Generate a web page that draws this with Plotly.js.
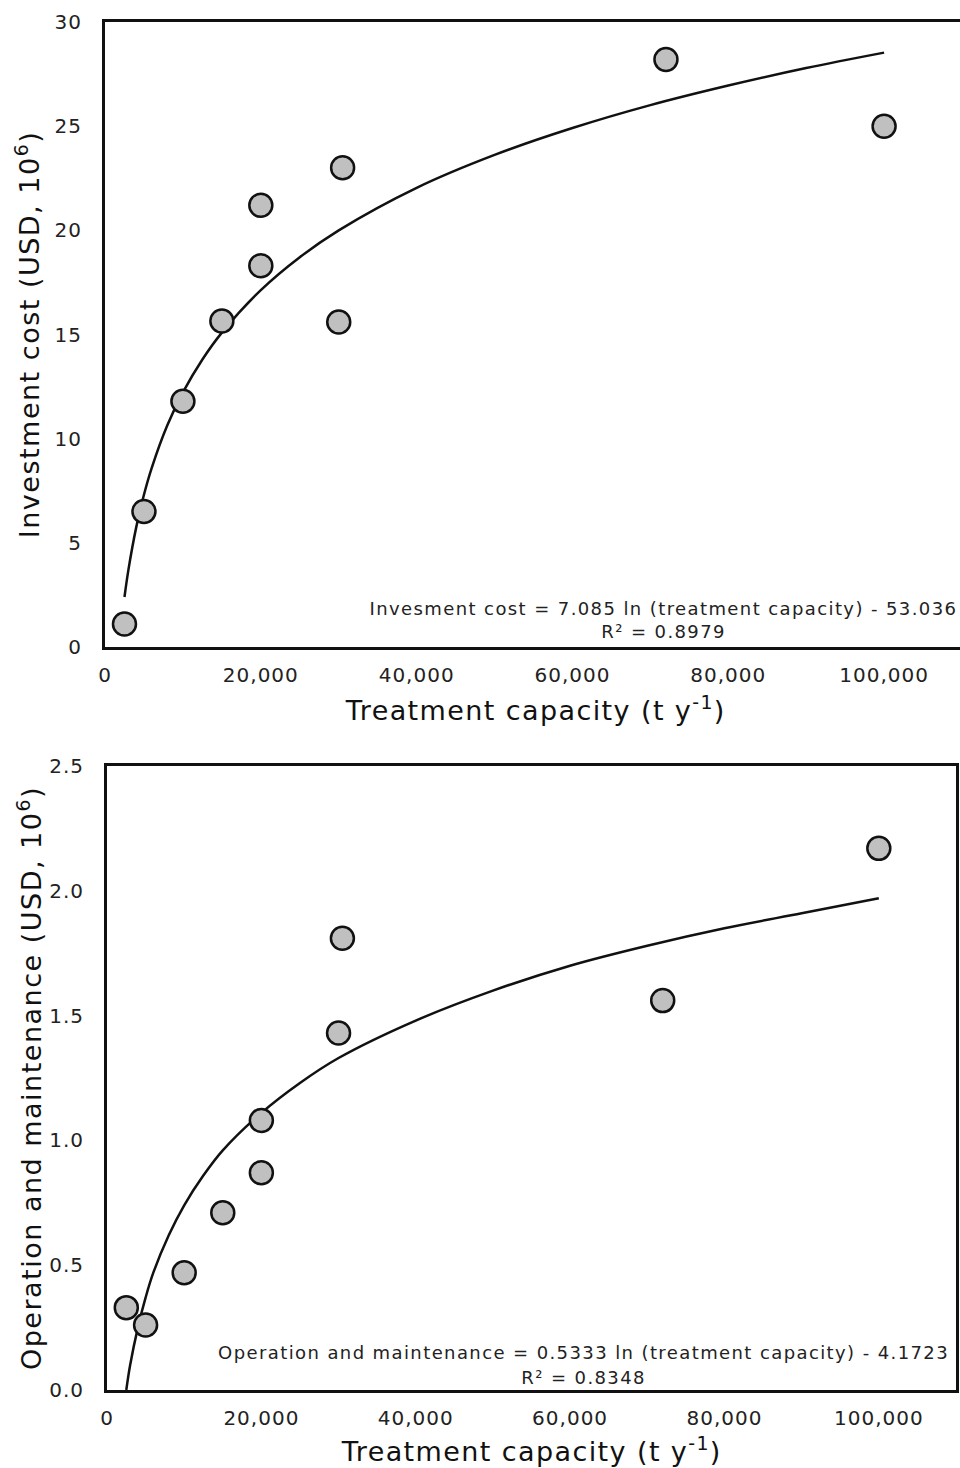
<!DOCTYPE html>
<html>
<head>
<meta charset="utf-8">
<script src="https://cdn.plot.ly/plotly-3.0.1.min.js"></script>
<style>
html, body { margin: 0; padding: 0; overflow: hidden; background: #fff; }
#chart { width: 966px; height: 1468px; }
/* widen the DejaVu glyph run to match the wide geometric face of the original */
#chart [class*="tick"] text { letter-spacing: 1px; }
#chart [class*="title"] text { letter-spacing: 1.5px; }
#chart .annotation-text { letter-spacing: 1.4px; }
</style>
</head>
<body>
<div id="chart"></div>
<script>
// Measured points
const capacityInv = [2500, 5000, 10000, 15000, 20000, 20000, 30000, 30500, 72000, 100000];
const investCost = [1.1, 6.5, 11.8, 15.65, 18.3, 21.2, 15.6, 23.0, 28.2, 25.0];
const capacityOM = [2500, 5000, 10000, 15000, 20000, 20000, 30000, 30500, 72000, 100000];
const omCost = [0.33, 0.26, 0.47, 0.71, 0.87, 1.08, 1.43, 1.81, 1.56, 2.17];

// Logarithmic trend lines as drawn in the figure
const trendX = [2500, 3000, 4000, 5000, 6000, 8000, 10000, 12500, 15000, 20000, 25000, 30000, 40000, 50000, 60000, 70000, 80000, 90000, 100000];
const trendInv = [2.40, 3.69, 5.73, 7.31, 8.60, 10.64, 12.22, 13.80, 15.09, 17.13, 18.71, 20.00, 22.04, 23.62, 24.91, 26.01, 26.95, 27.79, 28.53];
const trendOM = [0.00, 0.10, 0.25, 0.37, 0.47, 0.62, 0.74, 0.86, 0.96, 1.11, 1.23, 1.33, 1.48, 1.60, 1.70, 1.78, 1.85, 1.91, 1.97];

const xTickVals = [0, 20000, 40000, 60000, 80000, 100000];
const xTickText = ['0', '20,000', '40,000', '60,000', '80,000', '100,000'];
const yTopTicks = [0, 5, 10, 15, 20, 25, 30];
const yBotTicks = [0, 0.5, 1.0, 1.5, 2.0, 2.5];
const yBotText = ['0.0', '0.5', '1.0', '1.5', '2.0', '2.5'];

const xTitle = 'Treatment capacity (t y<sup>-1</sup>)';
const yTitleTop = 'Investment cost (USD, 10<sup>6</sup>)';
const yTitleBot = 'Operation and maintenance (USD, 10<sup>6</sup>)';
const eqInv = 'Invesment cost = 7.085 ln (treatment capacity) - 53.036';
const r2Inv = 'R² = 0.8979';
const eqOM = 'Operation and maintenance = 0.5333 ln (treatment capacity) - 4.1723';
const r2OM = 'R² = 0.8348';

const FONT = 'DejaVu Sans, sans-serif';
const W = 966, H = 1468;

const markerStyle = { size: 23, color: '#c0c0c0', line: { color: '#111', width: 2.5 } };

const data = [
  { x: trendX, y: trendInv, xaxis: 'x', yaxis: 'y', mode: 'lines', line: { color: '#111', width: 2.5, shape: 'spline' }, hoverinfo: 'skip' },
  { x: capacityInv, y: investCost, xaxis: 'x', yaxis: 'y', mode: 'markers', marker: markerStyle },
  { x: trendX, y: trendOM, xaxis: 'x2', yaxis: 'y2', mode: 'lines', line: { color: '#111', width: 2.5, shape: 'spline' }, hoverinfo: 'skip' },
  { x: capacityOM, y: omCost, xaxis: 'x2', yaxis: 'y2', mode: 'markers', marker: markerStyle }
];

function xAxis(dom, anchor) {
  return {
    domain: dom, anchor: anchor, range: [0, 110000],
    tickvals: xTickVals, ticktext: xTickText, ticks: '',
    showgrid: false, zeroline: false,
    showline: true, linecolor: '#111', linewidth: 3, mirror: true,
    tickfont: { family: FONT, size: 20, color: '#222' },
    ticklabelstandoff: 8
  };
}
function yAxis(dom, anchor, range, vals, text, title) {
  return {
    domain: dom, anchor: anchor, range: range,
    tickvals: vals, ticktext: text, ticks: '',
    showgrid: false, zeroline: false,
    showline: true, linecolor: '#111', linewidth: 3, mirror: true,
    tickfont: { family: FONT, size: 20, color: '#222' },
    ticklabelstandoff: 16,
    title: { text: title, font: { family: FONT, size: 27, color: '#111' } }
  };
}

const annFont = { family: FONT, size: 18, color: '#222' };
const titleFont = { family: FONT, size: 27, color: '#111' };

const layout = {
  width: W, height: H,
  margin: { l: 0, r: 0, t: 0, b: 0 },
  paper_bgcolor: '#fff', plot_bgcolor: '#fff',
  showlegend: false,
  xaxis: xAxis([105 / W, 962 / W], 'y'),
  yaxis: yAxis([1 - 647 / H, 1 - 22 / H], 'x', [0, 30], yTopTicks, yTopTicks.map(String), yTitleTop),
  xaxis2: xAxis([107 / W, 956 / W], 'y2'),
  yaxis2: yAxis([1 - 1390 / H, 1 - 766 / H], 'x2', [0, 2.5], yBotTicks, yBotText, yTitleBot),
  annotations: [
    { text: xTitle, xref: 'paper', yref: 'paper', x: 535 / W, y: 1 - 708 / H, showarrow: false, xanchor: 'center', yanchor: 'middle', font: titleFont },
    { text: xTitle, xref: 'paper', yref: 'paper', x: 531 / W, y: 1 - 1449 / H, showarrow: false, xanchor: 'center', yanchor: 'middle', font: titleFont },
    { text: eqInv, xref: 'paper', yref: 'paper', x: 663 / W, y: 1 - 608 / H, showarrow: false, xanchor: 'center', yanchor: 'middle', font: annFont },
    { text: r2Inv, xref: 'paper', yref: 'paper', x: 663 / W, y: 1 - 632 / H, showarrow: false, xanchor: 'center', yanchor: 'middle', font: annFont },
    { text: eqOM, xref: 'paper', yref: 'paper', x: 583 / W, y: 1 - 1352 / H, showarrow: false, xanchor: 'center', yanchor: 'middle', font: annFont },
    { text: r2OM, xref: 'paper', yref: 'paper', x: 583 / W, y: 1 - 1377 / H, showarrow: false, xanchor: 'center', yanchor: 'middle', font: annFont }
  ]
};

Plotly.newPlot('chart', data, layout, { displayModeBar: false, staticPlot: true });
</script>
</body>
</html>
